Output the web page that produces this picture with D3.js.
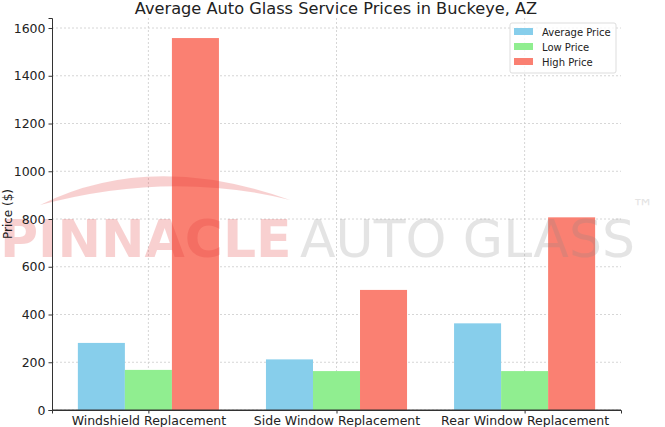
<!DOCTYPE html><html><head><meta charset="utf-8"><script src="https://cdn.jsdelivr.net/npm/d3@7"></script>
<style>body{margin:0;background:#fff}text{font-family:"DejaVu Sans",sans-serif}</style></head><body><svg id="c" width="665" height="427"></svg>
<script>
const categories=["Windshield Replacement","Side Window Replacement","Rear Window Replacement"];
const seriesNames=["Average Price","Low Price","High Price"];
const averagePrice=[281,212,363];
const lowPrice=[168,163,163];
const highPrice=[1558,503,807];
const yTicks=[0,200,400,600,800,1000,1200,1400,1600];
const colors=["#87ceeb","#90ee90","#fa8072"];
const series=[averagePrice,lowPrice,highPrice];
const svg=d3.select("#c");
const L=52,R=621,T=18,B=410;
const x=d3.scaleLinear().domain([-0.5125,2.5125]).range([L,R]);
const y=d3.scaleLinear().domain([0,1642]).range([B,T]);
const g=svg.append("g");
g.selectAll(".gy").data(yTicks).enter().append("line").attr("x1",L).attr("x2",R).attr("y1",d=>y(d)).attr("y2",d=>y(d)).attr("stroke","#ccc").attr("stroke-dasharray","2,2").attr("stroke-width",0.8);
g.selectAll(".gx").data(categories).enter().append("line").attr("x1",(d,i)=>x(i)).attr("x2",(d,i)=>x(i)).attr("y1",T).attr("y2",B).attr("stroke","#ccc").attr("stroke-dasharray","2,2").attr("stroke-width",0.8);
series.forEach((s,k)=>{
 g.selectAll(".b"+k).data(s).enter().append("rect").attr("x",(d,i)=>x(i+(k-1)*0.25-0.125)).attr("width",x(0.25)-x(0)).attr("y",d=>y(d)).attr("height",d=>B-y(d)).attr("fill",colors[k]);
});
const wm=svg.append("g").attr("opacity",0.22);
wm.append("path").attr("d","M40 205 Q150 150 290 200 Q170 170 40 205Z").attr("fill","#e03030");
wm.append("text").attr("x",0).attr("y",257).attr("font-size",52).attr("font-weight","bold").attr("fill","#e03030").attr("font-family","Liberation Sans").text("PINNACLE");
wm.append("text").attr("x",300).attr("y",257).attr("font-size",52).attr("fill","#888").attr("font-family","Liberation Sans").text("AUTO GLASS");
wm.append("text").attr("x",632).attr("y",215).attr("font-size",22).attr("fill","#888").text("™");
const ya=svg.append("g").attr("transform",`translate(${L},0)`).call(d3.axisLeft(y).tickValues(yTicks).tickSize(3.5).tickFormat(d3.format("d")));
const xa=svg.append("g").attr("transform",`translate(0,${B})`).call(d3.axisBottom(x).tickValues([0,1,2]).tickSize(3.5).tickFormat(i=>categories[i]));
[ya,xa].forEach(a=>{a.selectAll("text").attr("font-size",12.5).attr("fill","#222");a.select(".domain").attr("stroke","#333");a.selectAll("line").attr("stroke","#333");});
svg.append("line").attr("x1",L).attr("x2",R).attr("y1",B).attr("y2",B).attr("stroke","#333");
svg.append("text").attr("transform","rotate(-90)").attr("x",-(T+B)/2).attr("y",12).attr("text-anchor","middle").attr("font-size",12).attr("fill","#222").text("Price ($)");
svg.append("text").attr("x",336).attr("y",14).attr("text-anchor","middle").attr("font-size",16.2).attr("fill","#222").text("Average Auto Glass Service Prices in Buckeye, AZ");
const lg=svg.append("g").attr("transform","translate(510,23)");
lg.append("rect").attr("width",106).attr("height",50).attr("fill","#fff").attr("fill-opacity",0.8).attr("stroke","#ddd").attr("rx",2);
seriesNames.forEach((n,i)=>{
 lg.append("rect").attr("x",4).attr("y",5+i*15).attr("width",19).attr("height",7).attr("fill",colors[i]);
 lg.append("text").attr("x",32).attr("y",13+i*15).attr("font-size",10).attr("fill","#222").text(n);
});
</script></body></html>
